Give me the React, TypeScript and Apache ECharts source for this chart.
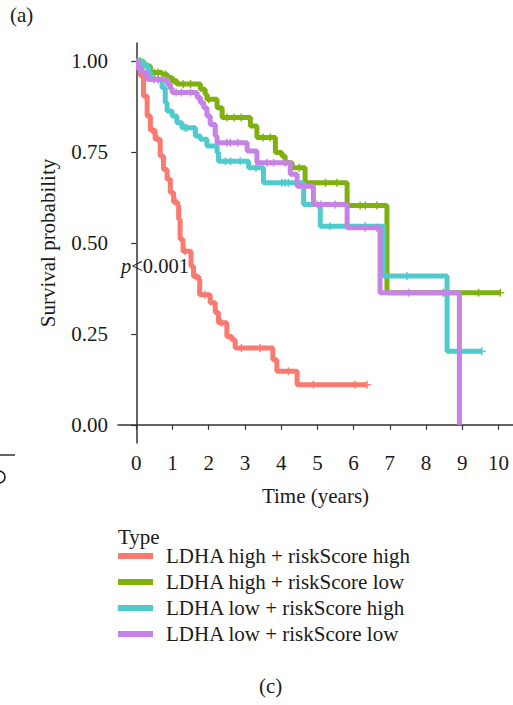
import React, { useEffect, useRef } from "react";
import * as echarts from "echarts";

const groups = [
  "LDHA high + riskScore high",
  "LDHA high + riskScore low",
  "LDHA low + riskScore high",
  "LDHA low + riskScore low",
];
const colors = ["#F97A71", "#7FB10C", "#4FCACD", "#C682E6"];

const xTicks = [0, 1, 2, 3, 4, 5, 6, 7, 8, 9, 10];
const yTicks = [0, 0.25, 0.5, 0.75, 1];

const redTime = [0, 0.11, 0.2, 0.3, 0.39, 0.52, 0.66, 0.75, 0.85, 0.94, 1.03, 1.14, 1.17, 1.21, 1.29, 1.51, 1.58, 1.72, 1.75, 2.04, 2.18, 2.27, 2.5, 2.64, 2.73, 3.77, 3.88, 4.44, 6.37];
const redSurv = [1, 0.96, 0.904, 0.849, 0.81, 0.785, 0.739, 0.702, 0.675, 0.639, 0.612, 0.603, 0.565, 0.51, 0.477, 0.436, 0.408, 0.4, 0.358, 0.336, 0.309, 0.281, 0.243, 0.234, 0.211, 0.179, 0.147, 0.11, 0.11];
const redCensor = [0.25, 0.45, 0.6, 0.9, 1.1, 1.35, 1.65, 1.9, 2.35, 2.9, 3.42, 4.2, 4.89, 6.04, 6.37];

const greenTime = [0, 0.2, 0.39, 0.71, 0.85, 0.99, 1.12, 1.77, 1.9, 1.95, 2.23, 2.37, 3.15, 3.33, 3.84, 4.02, 4.11, 4.3, 4.66, 5.82, 6.92, 10.05];
const greenSurv = [1, 0.987, 0.969, 0.964, 0.955, 0.946, 0.937, 0.923, 0.909, 0.895, 0.872, 0.845, 0.822, 0.79, 0.749, 0.739, 0.721, 0.707, 0.666, 0.603, 0.363, 0.363];
const greenCensor = [0.1, 0.3, 0.5, 0.6, 0.8, 1.05, 1.3, 1.5, 2.0, 2.5, 2.7, 2.9, 3.5, 3.7, 4.5, 5.22, 5.54, 6.18, 6.32, 6.64, 8.48, 9.45, 10.05];

const cyanTime = [0, 0.2, 0.34, 0.39, 0.71, 0.8, 0.85, 0.99, 1.12, 1.26, 1.63, 1.77, 1.95, 2.23, 2.27, 3.1, 3.51, 4.62, 5.08, 6.83, 8.58, 9.54];
const cyanSurv = [1, 0.987, 0.969, 0.95, 0.927, 0.886, 0.863, 0.849, 0.831, 0.817, 0.794, 0.785, 0.767, 0.749, 0.725, 0.707, 0.666, 0.606, 0.546, 0.409, 0.202, 0.202];
const cyanCensor = [0.1, 0.5, 0.6, 1.35, 1.4, 2.46, 2.6, 2.87, 3.3, 4.02, 4.11, 4.2, 5.35, 6.32, 7.47, 9.54];

const purpleTime = [0, 0.06, 0.16, 0.3, 0.85, 0.94, 0.99, 1.68, 1.77, 1.86, 1.95, 2.04, 2.18, 2.23, 3.06, 3.33, 4.25, 4.44, 4.89, 5.82, 6.73, 8.92];
const purpleSurv = [1, 0.978, 0.969, 0.95, 0.937, 0.925, 0.914, 0.9, 0.886, 0.872, 0.849, 0.826, 0.794, 0.776, 0.753, 0.721, 0.689, 0.656, 0.606, 0.542, 0.363, 0];
const purpleCensor = [0.1, 0.5, 0.6, 1.1, 1.25, 1.5, 2.5, 2.6, 2.8, 3.61, 3.79, 4.11, 5.0, 5.1, 5.49, 6.32, 6.64, 7.52];

const curves = [
  { time: redTime, surv: redSurv, censor: redCensor },
  { time: greenTime, surv: greenSurv, censor: greenCensor },
  { time: cyanTime, surv: cyanSurv, censor: cyanCensor },
  { time: purpleTime, surv: purpleSurv, censor: purpleCensor },
];

const FONT = '"Liberation Serif", "Times New Roman", serif';
const FS = 21;
const PLUS = "path://M4,0H6V4H10V6H6V10H4V6H0V4H4Z";

function survAt(time: number[], surv: number[], t: number) {
  let v = surv[0];
  for (let i = 0; i < time.length; i++) {
    if (time[i] <= t) v = surv[i];
  }
  return v;
}

export default function App() {
  const ref = useRef<HTMLDivElement>(null);
  useEffect(() => {
    if (!ref.current) return;
    const chart = echarts.init(ref.current, null, { renderer: "svg" });
    const series: any[] = [];
    curves.forEach((c, i) => {
      series.push({
        name: groups[i],
        type: "line",
        step: "end",
        showSymbol: false,
        symbol: "none",
        data: c.time.map((t, k) => [t, c.surv[k]]),
        lineStyle: { color: colors[i], width: 5 },
        itemStyle: { color: colors[i] },
        z: 2 + i,
      });
    });
    curves.forEach((c, i) => {
      series.push({
        name: groups[i] + " censor",
        type: "scatter",
        symbol: PLUS,
        symbolSize: 8,
        data: c.censor.map((t) => [t, survAt(c.time, c.surv, t)]),
        itemStyle: { color: colors[i], opacity: 0.9 },
        z: 2 + i,
      });
    });

    const legendY = [556, 582, 608, 634];
    const graphic: any[] = [
      { type: "text", left: 10, top: 4, style: { text: "(a)", font: `${FS}px ${FONT}`, fill: "#1a1a1a" } },
      { type: "text", left: 259, top: 675, style: { text: "(c)", font: `${FS}px ${FONT}`, fill: "#1a1a1a" } },
      { type: "text", x: 118, y: 537, style: { text: "Type", font: `${FS}px ${FONT}`, fill: "#1a1a1a", verticalAlign: "middle" } },
      { type: "line", shape: { x1: 0, y1: 455, x2: 15, y2: 455 }, style: { stroke: "#333", lineWidth: 1.5 } },
      { type: "arc", shape: { cx: -1, cy: 477, r: 6, startAngle: -Math.PI / 2, endAngle: Math.PI / 2 }, style: { stroke: "#1a1a1a", lineWidth: 1.6, fill: "none" } },
      {
        type: "text",
        x: 121,
        y: 266,
        style: {
          text: "{i|p}<0.001",
          font: `20.5px ${FONT}`,
          fill: "#1a1a1a",
          verticalAlign: "middle",
          rich: { i: { fontStyle: "italic", fontSize: 20.5, fontFamily: FONT } },
        },
        z: 100,
      },
    ];
    groups.forEach((g, i) => {
      graphic.push({ type: "rect", shape: { x: 118, y: legendY[i] - 3, width: 35, height: 6 }, style: { fill: colors[i] } });
      graphic.push({ type: "text", x: 166, y: legendY[i], style: { text: g, font: `${FS}px ${FONT}`, fill: "#1a1a1a", verticalAlign: "middle" } });
    });

    chart.setOption({
      animation: false,
      backgroundColor: "#ffffff",
      grid: { left: 118, top: 43, width: 395, height: 400, outerBoundsMode: "none" },
      xAxis: {
        type: "value",
        min: -0.505,
        max: 10.4,
        name: "Time (years)",
        nameLocation: "middle",
        nameGap: 42,
        nameTextStyle: { fontFamily: FONT, fontSize: FS, color: "#1a1a1a" },
        axisLine: { show: true, lineStyle: { color: "#333", width: 1.5 } },
        axisTick: { show: true, length: 5, lineStyle: { color: "#333", width: 1.2 }, customValues: xTicks },
        axisLabel: { customValues: xTicks, margin: 9, fontFamily: FONT, fontSize: FS, color: "#1a1a1a" },
        splitLine: { show: false },
      },
      yAxis: {
        type: "value",
        min: -0.05,
        max: 1.05,
        name: "Survival probability",
        nameLocation: "middle",
        nameGap: 60,
        nameRotate: 90,
        nameTextStyle: { fontFamily: FONT, fontSize: FS, color: "#1a1a1a" },
        axisLine: { show: true, lineStyle: { color: "#333", width: 1.5 } },
        axisTick: { show: true, length: 5, lineStyle: { color: "#333", width: 1.2 }, customValues: yTicks },
        axisLabel: {
          customValues: yTicks,
          margin: 10,
          fontFamily: FONT,
          fontSize: FS,
          color: "#1a1a1a",
          formatter: (v: number) => v.toFixed(2),
        },
        splitLine: { show: false },
      },
      series,
      graphic,
    });
    return () => chart.dispose();
  }, []);
  return <div ref={ref} style={{ position: "fixed", left: 0, top: 0, width: 513, height: 705 }} />;
}
